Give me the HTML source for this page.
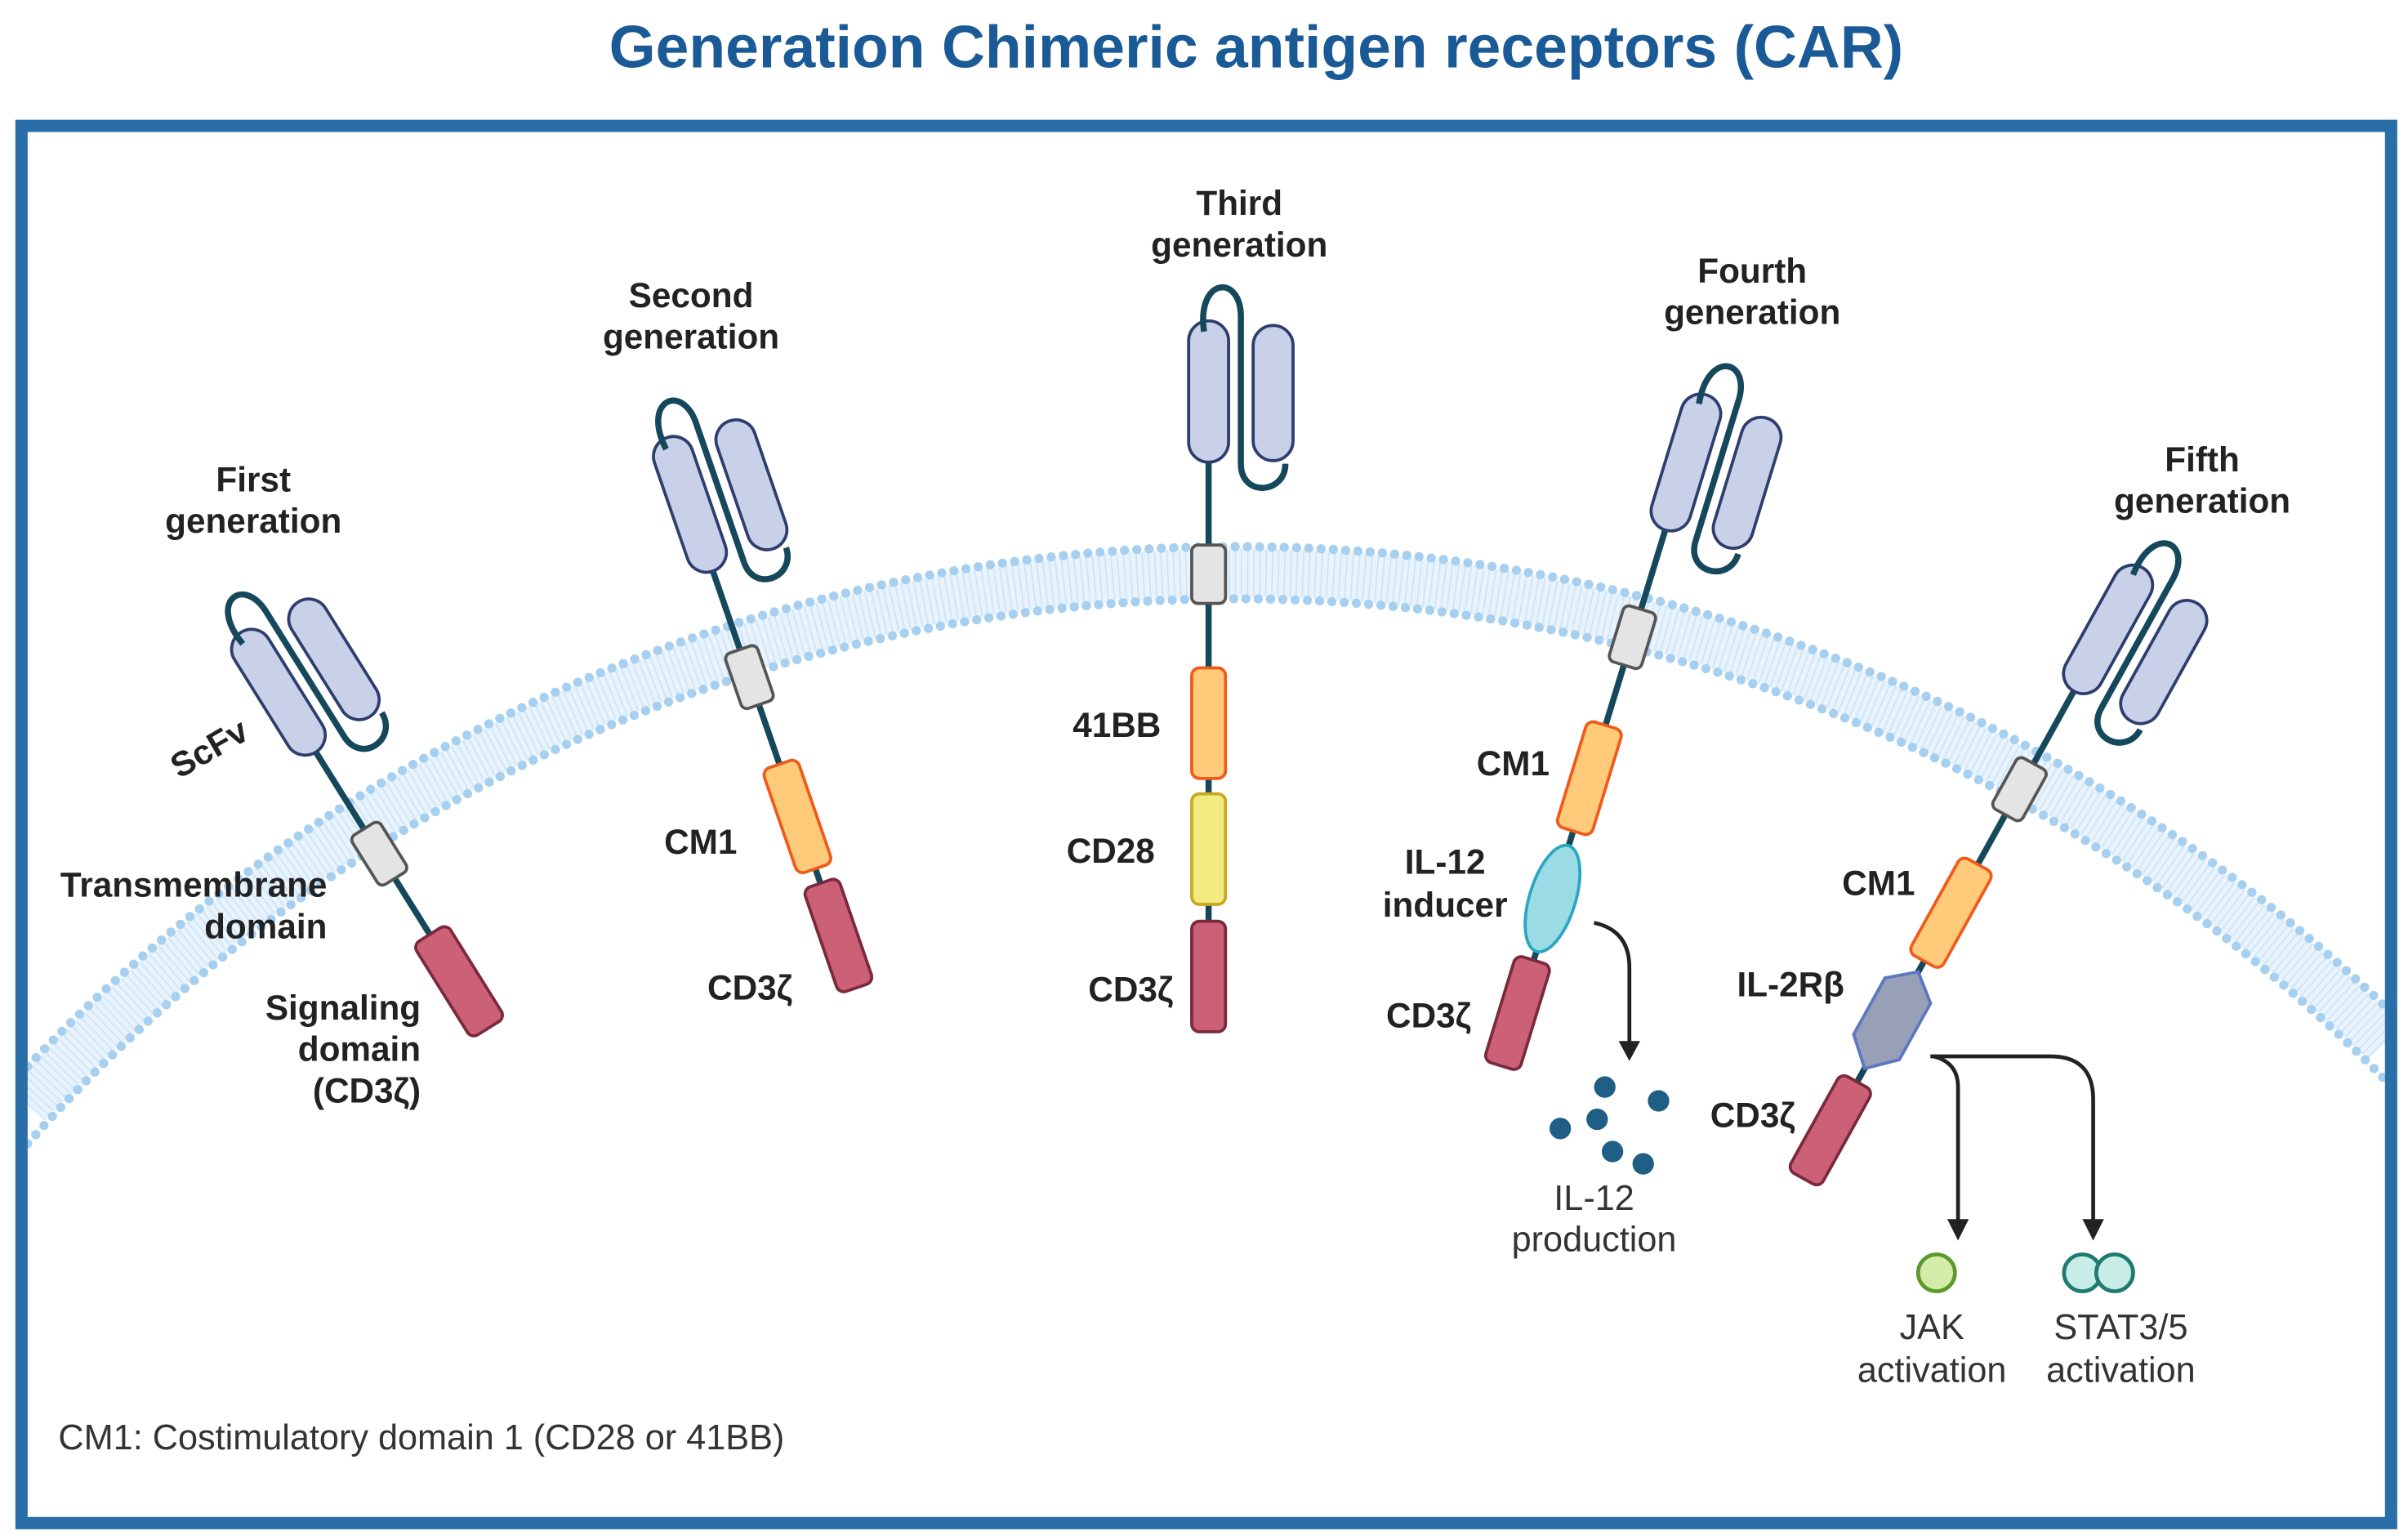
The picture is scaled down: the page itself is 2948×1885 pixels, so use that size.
<!DOCTYPE html>
<html><head><meta charset="utf-8"><style>
html,body{margin:0;padding:0;background:#fff;width:2948px;height:1885px;overflow:hidden;position:relative;}
svg{display:block;position:absolute;left:0;top:0;}
text{font-family:"Liberation Sans",Arial,sans-serif;}
.b{font-weight:bold;font-size:22.5px;fill:#222;}
.r{font-size:23px;fill:#333;}
</style></head><body>
<svg width="2948" height="1885" viewBox="0 0 1568 1003" preserveAspectRatio="none" xmlns="http://www.w3.org/2000/svg">
<defs>
<clipPath id="cp"><rect x="18" y="86" width="1535" height="902"/></clipPath>
<g id="scfv">
  <rect x="-13" y="-165" width="26" height="92" rx="13" fill="#c8d1e8" stroke="#2d3e6e" stroke-width="2"/>
  <path d="M -3 -158 C -8 -194, 22 -196, 21 -166 L 21 -72 C 21 -50, 50 -52, 50 -72" fill="none" stroke="#16485c" stroke-width="4"/>
  <rect x="29" y="-162" width="26" height="88" rx="13" fill="#c8d1e8" stroke="#2d3e6e" stroke-width="2"/>
</g>
<g id="tm"><rect x="-11" y="-19" width="22" height="38" rx="4" fill="#e4e4e4" stroke="#555" stroke-width="2"/></g>
</defs>
<rect width="1568" height="1003" fill="#fff"/>
<text x="818" y="44" text-anchor="middle" font-size="39" font-weight="bold" fill="#1a5a96">Generation Chimeric antigen receptors (CAR)</text>
<g clip-path="url(#cp)" fill="none">
  <path d="M18 719.5 A1067 1067 0 0 1 1553 679.1" stroke="#e8f3fc" stroke-width="32"/>
  <path d="M18 719.5 A1067 1067 0 0 1 1553 679.1" stroke="#cfe5f7" stroke-width="30" stroke-dasharray="1 3"/>
  <path d="M18 694.6 A1084 1084 0 0 1 1553 655.4" stroke="#a6cff0" stroke-width="6" stroke-linecap="round" stroke-dasharray="0 8"/>
  <path d="M18 744.9 A1050 1050 0 0 1 1553 703.1" stroke="#a6cff0" stroke-width="6" stroke-linecap="round" stroke-dasharray="0 8"/>
</g>
<rect x="14" y="82" width="1543" height="910" fill="none" stroke="#2a6ea8" stroke-width="8"/>

<g transform="translate(247,556) rotate(-32)">
  <line x1="0" y1="-80" x2="0" y2="70" stroke="#16485c" stroke-width="4"/>
  <g transform="translate(0,-5)"><use href="#scfv"/></g>
  <use href="#tm"/>
  <rect x="-13" y="62" width="26" height="72" rx="5" fill="#cc6077" stroke="#7a2a3c" stroke-width="2"/>
</g>
<g transform="translate(488,441) rotate(-19)">
  <line x1="0" y1="-80" x2="0" y2="150" stroke="#16485c" stroke-width="4"/>
  <use href="#scfv"/>
  <use href="#tm"/>
  <rect x="-12" y="60" width="24" height="72" rx="5" fill="#ffca7a" stroke="#f05a1a" stroke-width="2"/>
  <rect x="-12" y="142" width="24" height="72" rx="5" fill="#cc6077" stroke="#7a2a3c" stroke-width="2"/>
</g>
<g transform="translate(787,374)">
  <line x1="0" y1="-80" x2="0" y2="240" stroke="#16485c" stroke-width="4"/>
  <use href="#scfv"/>
  <use href="#tm"/>
  <rect x="-11" y="61" width="22" height="72" rx="5" fill="#ffca7a" stroke="#f05a1a" stroke-width="2"/>
  <rect x="-11" y="143" width="22" height="72" rx="5" fill="#f2ec80" stroke="#c9a820" stroke-width="2"/>
  <rect x="-11" y="226" width="22" height="72" rx="5" fill="#cc6077" stroke="#7a2a3c" stroke-width="2"/>
</g>
<g transform="translate(1063,415) rotate(17)">
  <line x1="0" y1="-80" x2="0" y2="240" stroke="#16485c" stroke-width="4"/>
  <use href="#scfv"/>
  <use href="#tm"/>
  <rect x="-12" y="60" width="24" height="72" rx="5" fill="#ffca7a" stroke="#f05a1a" stroke-width="2"/>
  <ellipse cx="0" cy="178" rx="15" ry="36" fill="#9adbe6" stroke="#2aa7bf" stroke-width="2"/>
  <rect x="-12" y="220" width="24" height="72" rx="5" fill="#cc6077" stroke="#7a2a3c" stroke-width="2"/>
</g>
<g transform="translate(1315,514) rotate(29)">
  <line x1="0" y1="-80" x2="0" y2="240" stroke="#16485c" stroke-width="4"/>
  <use href="#scfv"/>
  <use href="#tm"/>
  <rect x="-12" y="56" width="24" height="72" rx="5" fill="#ffca7a" stroke="#f05a1a" stroke-width="2"/>
  <polygon points="0,136 17,150 17,192 0,208 -17,192 -17,150" fill="#98a0b8" stroke="#5b78c0" stroke-width="2"/>
  <rect x="-12" y="218" width="24" height="72" rx="5" fill="#cc6077" stroke="#7a2a3c" stroke-width="2"/>
</g>

<g fill="none" stroke="#222" stroke-width="2.5">
  <path d="M1038 601 Q1061 606 1061 630 L1061 680"/>
  <path d="M1257 688 L1335 688 Q1363 688 1363 716 L1363 795"/>
  <path d="M1259 688 Q1275 692 1275 708 L1275 795"/>
</g>
<g fill="#222">
  <polygon points="1054,678 1068,678 1061,691"/>
  <polygon points="1268,794 1282,794 1275,808"/>
  <polygon points="1356,794 1370,794 1363,808"/>
</g>
<g fill="#1f5f85">
  <circle cx="1045" cy="708" r="7"/><circle cx="1080" cy="717" r="7"/><circle cx="1016" cy="735" r="7"/>
  <circle cx="1040" cy="729" r="7"/><circle cx="1050" cy="750" r="7"/><circle cx="1070" cy="758" r="7"/>
</g>
<circle cx="1261" cy="829" r="12" fill="#d3ecaa" stroke="#5a9a2a" stroke-width="2.5"/>
<circle cx="1356" cy="829" r="12" fill="#c8ece6" stroke="#1f7a70" stroke-width="2.5"/>
<circle cx="1377" cy="829" r="12" fill="#c8ece6" stroke="#1f7a70" stroke-width="2.5"/>

<g text-anchor="middle">
  <text x="165" y="320" class="b">First</text><text x="165" y="347" class="b">generation</text>
  <text x="450" y="200" class="b">Second</text><text x="450" y="227" class="b">generation</text>
  <text x="807" y="140" class="b">Third</text><text x="807" y="167" class="b">generation</text>
  <text x="1141" y="184" class="b">Fourth</text><text x="1141" y="211" class="b">generation</text>
  <text x="1434" y="307" class="b">Fifth</text><text x="1434" y="334" class="b">generation</text>
</g>
<text class="b" transform="translate(140,494) rotate(-30)" text-anchor="middle">ScFv</text>
<g text-anchor="end">
  <text x="213" y="584" class="b">Transmembrane</text><text x="213" y="611" class="b">domain</text>
  <text x="274" y="664" class="b">Signaling</text><text x="274" y="691" class="b">domain</text><text x="274" y="718" class="b">(CD3ζ)</text>
  <text x="480" y="556" class="b">CM1</text>
  <text x="516" y="651" class="b">CD3ζ</text>
  <text x="756" y="480" class="b">41BB</text>
  <text x="752" y="562" class="b">CD28</text>
  <text x="764" y="652" class="b">CD3ζ</text>
  <text x="1009" y="505" class="b">CM1</text>
  <text x="958" y="669" class="b">CD3ζ</text>
  <text x="1247" y="583" class="b">CM1</text>
  <text x="1201" y="649" class="b">IL-2Rβ</text>
  <text x="1169" y="734" class="b">CD3ζ</text>
</g>
<g text-anchor="middle">
  <text x="941" y="569" class="b">IL-12</text><text x="941" y="597" class="b">inducer</text>
  <text x="1038" y="788" class="r">IL-12</text><text x="1038" y="815" class="r">production</text>
  <text x="1258" y="872" class="r">JAK</text><text x="1258" y="900" class="r">activation</text>
  <text x="1381" y="872" class="r">STAT3/5</text><text x="1381" y="900" class="r">activation</text>
</g>
<text x="38" y="944" class="r">CM1: Costimulatory domain 1 (CD28 or 41BB)</text>
</svg>
</body></html>
